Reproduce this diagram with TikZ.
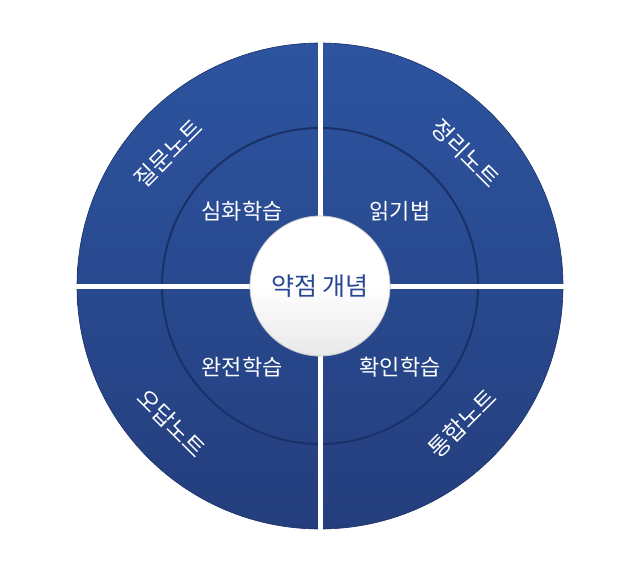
\documentclass[tikz,border=0pt]{standalone}
\usepackage{fontspec}
\newfontfamily\kofont{Noto Sans CJK KR}
\definecolor{ringtop}{RGB}{45,84,160}
\definecolor{ringbot}{RGB}{36,62,125}
\definecolor{ringline}{RGB}{25,48,105}
\definecolor{coretext}{RGB}{40,70,150}
\tikzset{
  outerlbl/.style={text=white, font=\kofont\fontsize{23}{23}\selectfont},
  innerlbl/.style={text=white, font=\kofont\fontsize{22}{22}\selectfont},
  gap/.style={white, line width=5pt}
}
\begin{document}
\begin{tikzpicture}[x=1pt,y=-1pt]
\useasboundingbox (0,0) rectangle (640,571);
% outer disc
\shade[top color=ringtop, bottom color=ringbot, draw=ringline, line width=0.6pt] (320,286) circle (243);
% inner ring
\draw[ringline, line width=2pt] (320,286) circle (158);
% gaps
\draw[gap] (320,40) -- (320,532);
\draw[gap] (74,286) -- (566,286);
% core
\shade[top color=white, bottom color=gray!18, middle color=white, draw=gray!45, line width=0.8pt] (320,286) circle (70);
\node[text=coretext, font=\kofont\fontsize{25}{25}\selectfont] (core) at (320,286) {약점 개념};
% inner labels
\node[innerlbl] (deep) at (242,211) {심화학습};
\node[innerlbl] (read) at (400,211) {읽기법};
\node[innerlbl] (full) at (242,367) {완전학습};
\node[innerlbl] (check) at (400,367) {확인학습};
% outer labels
\node[outerlbl, rotate=45] (ask) at (168,153) {질문노트};
\node[outerlbl, rotate=-45] (sum) at (466,153) {정리노트};
\node[outerlbl, rotate=-45] (wrong) at (172,423) {오답노트};
\node[outerlbl, rotate=45] (merge) at (462,423) {통합노트};
\end{tikzpicture}
\end{document}
